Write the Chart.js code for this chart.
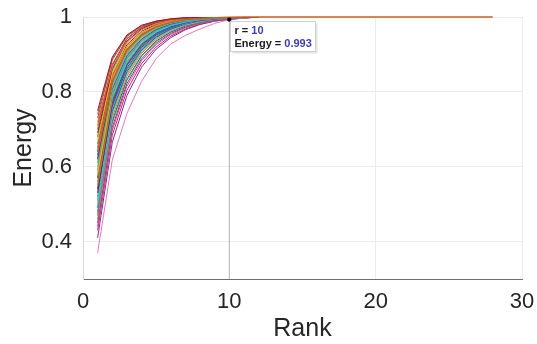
<!DOCTYPE html>
<html>
<head>
<meta charset="UTF-8">
<title>energy.html</title>
<style>
	html, body {margin:0; padding:0; background:#fff;}
	#box {width:537px; height:344px;}
</style>
</head>
<body>
<div id="box"><canvas id="myChart"></canvas></div>
<script src="https://cdn.jsdelivr.net/npm/chart.js"></script>
<script>
	// rank axis (x) and tick values
	const ranks = [1,2,3,4,5,6,7,8,9,10,11,12,13,14,15,16,17,18,19,20,21,22,23,24,25,26,27,28];
	const xTicks = [0, 10, 20, 30];
	const yTicks = [0.4, 0.6, 0.8, 1];
	const yMin = 0.3;

	// data tip
	const tipRank = 10;
	const tipEnergy = 0.993;

	// cumulative energy curves (rank 1, 2, 3 ...)
	const longCurve = [0.64,0.829,0.912,0.952,0.974,0.986,0.993,0.996,0.998,0.999,1,1,1,1,1,1,1,1,1,1,1,1,1,1,1,1,1,1];
	const curves = [
		[0.75,0.893,0.952,0.978,0.989,0.995,0.998,0.999,1,1,1,1],
		[0.73,0.885,0.948,0.975,0.988,0.994,0.997,0.999,1,1,1,1],
		[0.71,0.874,0.943,0.973,0.987,0.993,0.997,0.999,1,1,1,1],
		[0.72,0.866,0.934,0.966,0.982,0.991,0.995,0.998,0.999,1,1,1],
		[0.69,0.862,0.936,0.969,0.985,0.992,0.996,0.998,0.999,1,1,1],
		[0.67,0.853,0.931,0.966,0.983,0.991,0.996,0.998,0.999,1,1,1],
		[0.70,0.848,0.922,0.958,0.977,0.988,0.994,0.997,0.999,1,1,1],
		[0.66,0.841,0.921,0.958,0.978,0.989,0.994,0.997,0.999,1,1,1],
		[0.64,0.835,0.918,0.957,0.977,0.988,0.994,0.997,0.998,0.999,1,1],
		[0.68,0.829,0.909,0.950,0.972,0.985,0.992,0.996,0.998,0.999,1,1],
		[0.62,0.826,0.913,0.953,0.974,0.986,0.993,0.996,0.998,0.999,1,1],
		[0.65,0.818,0.903,0.946,0.970,0.984,0.991,0.995,0.998,0.999,1,1],
		[0.60,0.814,0.905,0.949,0.972,0.985,0.992,0.996,0.998,0.999,1,1],
		[0.63,0.807,0.896,0.941,0.967,0.981,0.990,0.995,0.997,0.999,1,1],
		[0.58,0.803,0.897,0.943,0.968,0.982,0.990,0.995,0.997,0.999,1,1],
		[0.61,0.796,0.888,0.936,0.963,0.979,0.989,0.994,0.997,0.998,0.999,1],
		[0.56,0.792,0.889,0.937,0.964,0.980,0.989,0.994,0.997,0.998,0.999,1],
		[0.59,0.785,0.879,0.930,0.959,0.977,0.987,0.993,0.996,0.998,0.999,1],
		[0.55,0.781,0.881,0.931,0.960,0.977,0.987,0.993,0.996,0.998,0.999,1],
		[0.57,0.773,0.871,0.924,0.955,0.974,0.985,0.992,0.996,0.998,0.999,1],
		[0.53,0.770,0.873,0.926,0.957,0.975,0.986,0.992,0.996,0.998,0.999,1],
		[0.54,0.762,0.864,0.919,0.952,0.971,0.984,0.991,0.995,0.997,0.999,1],
		[0.51,0.757,0.862,0.918,0.951,0.971,0.983,0.991,0.995,0.997,0.999,1],
		[0.52,0.749,0.854,0.911,0.946,0.968,0.981,0.990,0.994,0.997,0.999,1],
		[0.49,0.745,0.853,0.911,0.946,0.967,0.981,0.989,0.994,0.997,0.998,1],
		[0.50,0.737,0.845,0.905,0.942,0.965,0.979,0.988,0.994,0.997,0.998,1],
		[0.47,0.731,0.842,0.903,0.940,0.963,0.978,0.987,0.993,0.996,0.998,1],
		[0.48,0.722,0.834,0.897,0.936,0.960,0.976,0.986,0.992,0.996,0.998,1],
		[0.46,0.716,0.830,0.894,0.934,0.959,0.975,0.985,0.992,0.996,0.998,1],
		[0.45,0.705,0.822,0.888,0.930,0.956,0.973,0.984,0.991,0.995,0.998,1],
		[0.44,0.697,0.815,0.883,0.926,0.953,0.971,0.983,0.990,0.995,0.998,1],
		[0.43,0.684,0.804,0.875,0.920,0.949,0.968,0.981,0.989,0.994,0.997,1],
		[0.37,0.618,0.742,0.828,0.889,0.928,0.951,0.968,0.983,0.993,0.997,1],
		[0.66,0.858,0.935,0.968,0.984,0.992,0.996,0.998,0.999,1,1,1],
		[0.62,0.820,0.907,0.948,0.971,0.984,0.991,0.995,0.998,0.999,1,1],
		[0.54,0.778,0.878,0.929,0.958,0.976,0.986,0.992,0.996,0.998,0.999,1],
		[0.58,0.795,0.893,0.940,0.966,0.981,0.990,0.995,0.997,0.999,1,1],
		[0.50,0.752,0.860,0.916,0.950,0.970,0.982,0.990,0.995,0.997,0.999,1],
		[0.74,0.889,0.950,0.977,0.989,0.995,0.998,0.999,1,1,1,1],
		[0.70,0.870,0.941,0.972,0.986,0.993,0.997,0.999,1,1,1,1],
		[0.68,0.857,0.933,0.967,0.983,0.992,0.996,0.998,0.999,1,1,1],
		[0.65,0.845,0.926,0.962,0.980,0.990,0.995,0.997,0.999,1,1,1],
		[0.63,0.831,0.915,0.955,0.976,0.987,0.993,0.996,0.998,0.999,1,1],
		[0.61,0.816,0.906,0.950,0.973,0.985,0.992,0.996,0.998,0.999,1,1],
		[0.59,0.808,0.900,0.945,0.969,0.983,0.991,0.995,0.997,0.999,1,1],
		[0.57,0.799,0.893,0.940,0.966,0.981,0.990,0.995,0.997,0.998,0.999,1],
		[0.55,0.788,0.885,0.934,0.962,0.979,0.988,0.994,0.997,0.998,0.999,1],
		[0.53,0.776,0.876,0.928,0.958,0.976,0.986,0.993,0.996,0.998,0.999,1],
		[0.51,0.766,0.869,0.922,0.954,0.973,0.985,0.992,0.995,0.997,0.999,1],
		[0.49,0.755,0.859,0.915,0.949,0.969,0.982,0.990,0.995,0.997,0.999,1],
		[0.47,0.740,0.848,0.907,0.943,0.965,0.979,0.988,0.994,0.996,0.998,1],
		[0.41,0.665,0.790,0.866,0.914,0.945,0.966,0.980,0.989,0.994,0.997,1]
	];
	const colors = [
		'#A2142F','#8C564B','#D95319','#E8743B','#A2142F','#EDB120','#BCBD22','#D95319',
		'#EDB120','#77AC30','#7E2F8E','#4DBEEE','#77AC30','#0072BD','#EDB120','#17BECF',
		'#D95319','#4DBEEE','#77AC30','#0072BD','#A2142F','#7E2F8E','#4DBEEE','#0072BD',
		'#17BECF','#EDB120','#E75480','#0072BD','#77AC30','#7E2F8E','#E75480','#C71585',
		'#E377C2','#4DBEEE','#D95319','#0072BD','#BCBD22','#77AC30',
		'#D95319','#7E2F8E','#0072BD','#A2142F','#17BECF','#EDB120','#E75480','#8C564B',
		'#4DBEEE','#BCBD22','#D95319','#0072BD','#77AC30','#7E2F8E'
	];

	Chart.defaults.font.family = '"Liberation Sans", Arial, sans-serif';

	// data tip box, drawn next to the marked point
	const tipPlugin = {
		id: 'tipPlugin',
		afterDatasetsDraw(chart) {
			const ctx = chart.ctx;
			const px = chart.scales.x.getPixelForValue(tipRank);
			const py = chart.scales.y.getPixelForValue(tipEnergy);
			const bx = Math.round(px) + 1.5, by = Math.round(py) + 1.5, bw = 85, bh = 30;
			ctx.save();
			ctx.fillStyle = 'rgba(0,0,0,0.10)';
			ctx.fillRect(bx + 2, by + 2, bw, bh);
			ctx.fillStyle = '#fff';
			ctx.fillRect(bx, by, bw, bh);
			ctx.strokeStyle = '#cfcfcf';
			ctx.lineWidth = 1;
			ctx.strokeRect(bx, by, bw, bh);
			ctx.font = 'bold 11px "Liberation Sans", Arial';
			ctx.textBaseline = 'alphabetic';
			const line = function(label, val, yy) {
				ctx.fillStyle = '#1a1a1a';
				ctx.fillText(label, bx + 4, yy);
				ctx.fillStyle = '#3d3db3';
				ctx.fillText(val, bx + 4 + ctx.measureText(label).width, yy);
			};
			line('r = ', String(tipRank), by + 12);
			line('Energy = ', tipEnergy.toFixed(3), by + 25);
			ctx.restore();
		}
	};

	const datasets = [];
	// marked point
	datasets.push({data:[{x:tipRank, y:tipEnergy}], borderColor:'#000', backgroundColor:'#000',
		pointRadius:2, pointStyle:'rect', showLine:false});
	datasets.push({data:longCurve, borderColor:'#C8601E', borderWidth:1.5, pointRadius:0, clip:4});
	curves.forEach(function(c, i) {
		datasets.push({data:c, borderColor:colors[i], borderWidth:1, pointRadius:0});
	});
	// vertical line at the marked rank
	datasets.push({data:[{x:tipRank, y:yMin}, {x:tipRank, y:1}], borderColor:'#b4b4b4', borderWidth:1, pointRadius:0});

	const ctx = document.getElementById('myChart');
	const chart = new Chart(ctx, {
		type:'line',
		data:{labels:ranks, datasets:datasets},
		options:{
			responsive:true,
			maintainAspectRatio:false,
			devicePixelRatio:1,
			animation:false,
			layout:{padding:{left:0, top:17, right:15, bottom:0}},
			plugins:{legend:{display:false}, tooltip:{enabled:false}},
			elements:{line:{tension:0, fill:false}},
			scales:{
				x:{
					type:'linear', min:0, max:30,
					afterBuildTicks:function(s){ s.ticks = xTicks.map(v => ({value:v})); },
					afterFit:function(s){ s.height = 65; s.paddingLeft = 0; s.paddingRight = 0; },
					ticks:{font:{size:22}, color:'#262626', padding:10, maxRotation:0},
					grid:{drawTicks:false, color:function(c){ return (c.tick && (c.tick.value === 20 || c.tick.value === 30)) ? '#ececec' : 'rgba(0,0,0,0)'; }},
					border:{color:'#6e6e6e', width:1},
					title:{display:true, text:'Rank', color:'#262626', font:{size:25, lineHeight:1}, padding:{top:0, bottom:2}}
				},
				y:{
					min:yMin, max:1,
					afterBuildTicks:function(s){ s.ticks = yTicks.map(v => ({value:v})); },
					afterFit:function(s){ s.width = 83; s.paddingTop = 0; s.paddingBottom = 0; },
					ticks:{font:{size:22}, color:'#262626', padding:11, callback:function(v){ return String(v); }},
					grid:{drawTicks:false, color:'#ececec'},
					border:{color:'#d6d6d6', width:1},
					title:{display:true, text:'Energy', color:'#262626', font:{size:25, lineHeight:1}, padding:{top:12, bottom:0}}
				}
			}
		},
		plugins:[tipPlugin]
	});
</script>
</body>
</html>
